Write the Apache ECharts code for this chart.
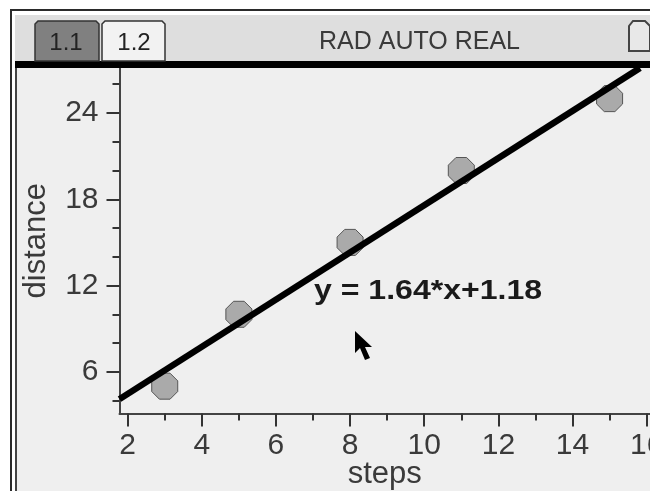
<!DOCTYPE html>
<html>
<head>
<meta charset="utf-8">
<script src="https://cdn.jsdelivr.net/npm/echarts@6/dist/echarts.min.js"></script>
<style>html,body{margin:0;padding:0;background:#fff}#c{width:650px;height:491px}</style>
</head>
<body>
<div id="c"></div>
<script>
const stepsValues = [3, 5, 8, 11, 15];
const distanceValues = [5, 10, 15, 20, 25];
const fitX = [1.78, 15.82];
const fitY = [4.1, 27.13];
const xMajor = [2, 4, 6, 8, 10, 12, 14, 16];
const xMinor = [3, 5, 7, 9, 11, 13, 15];
const yMajor = [6, 12, 18, 24];
const yMinor = [4, 8, 10, 14, 16, 20, 22, 26];
const xRange = [1.78, 16.09];
const yRange = [3.1, 27.13];
const equation = 'y = 1.64*x+1.18';
const tabs = ['1.1', '1.2'];
const status = 'RAD AUTO REAL';
const xName = 'steps';
const yName = 'distance';

const font = '"Liberation Sans", Arial, sans-serif';
const ink = '#3a3a3a';
const octagon = 'path://M-0.41,-1 L0.41,-1 L1,-0.41 L1,0.41 L0.41,1 L-0.41,1 L-1,0.41 L-1,-0.41 Z';

const chart = echarts.init(document.getElementById('c'), null, {renderer: 'canvas'});

function rect(x, y, w, h, fill, z, extra) {
  return Object.assign({type: 'rect', z: z, shape: {x, y, width: w, height: h}, style: {fill}}, extra || {});
}
function label(text, x, y, size, z, extra) {
  return {type: 'text', z, x, y, style: Object.assign({text, font: size + 'px ' + font, fill: ink, textAlign: 'center', textVerticalAlign: 'middle'}, extra || {})};
}
function poly(points, style, z) {
  return {type: 'polygon', z, shape: {points}, style};
}

const chrome = [
  rect(0, 0, 650, 491, '#ffffff', -10, {silent: true}),
  rect(10, 9, 640, 482, '#2a2a2a', -9),
  rect(12, 11, 638, 480, '#ffffff', -9),
  rect(15, 15, 635, 476, '#efefef', -8),
  rect(15, 15, 635, 46, '#dedede', 20),
  rect(15, 61, 635, 7, '#000000', 20),
  rect(15, 68, 2, 423, '#444444', 20),
  poly([[35,61],[35,24],[38,21],[96,21],[99,24],[99,61]], {fill: '#808080', stroke: '#333', lineWidth: 1.5}, 21),
  poly([[102,61],[102,24],[105,21],[162,21],[165,24],[165,61]], {fill: '#f2f2f2', stroke: '#333', lineWidth: 1.5}, 21),
  label(tabs[0], 66, 43, 24, 22, {fill: '#222'}),
  label(tabs[1], 134, 43, 24, 22, {fill: '#222'}),
  label(status, 419.5, 42, 25, 22),
  poly([[629,51],[629,26],[633,21],[645,21],[650,26],[650,51]], {fill: '#e8e8e8', stroke: '#444', lineWidth: 2}, 21),
  {type: 'text', z: 30, x: 314, y: 291, scaleX: 1.145, style: {text: equation, font: 'bold 28px ' + font, fill: '#1a1a1a', textAlign: 'left', textVerticalAlign: 'middle'}},
  poly([[355,331],[355,353],[360,348],[365,360],[370,358],[365,347],[372,347]], {fill: '#000'}, 30)
];

function baseTick(values, length) {
  return {show: true, length, customValues: values, lineStyle: {color: '#333', width: 2}};
}

chart.setOption({
  animation: false,
  backgroundColor: 'transparent',
  grid: {left: 119.5, top: 68, right: 0, bottom: 77.5, containLabel: false, outerBoundsMode: 'none'},
  xAxis: [
    {type: 'value', position: 'bottom', min: xRange[0], max: xRange[1], splitLine: {show: false},
     axisLine: {show: true, onZero: false, lineStyle: {color: '#444', width: 2}},
     axisTick: baseTick(xMajor, 13),
     axisLabel: {customValues: xMajor, margin: 17, fontSize: 30, fontFamily: font, color: ink, hideOverlap: false, showMinLabel: true, showMaxLabel: true},
     name: xName, nameLocation: 'middle', nameGap: 45, nameTextStyle: {fontSize: 31, fontFamily: font, color: ink},
     nameMoveOverlap: false},
    {type: 'value', position: 'bottom', min: xRange[0], max: xRange[1], splitLine: {show: false},
     axisLine: {show: false}, axisTick: baseTick(xMinor, 7), axisLabel: {show: false}}
  ],
  yAxis: [
    {type: 'value', position: 'left', min: yRange[0], max: yRange[1], splitLine: {show: false},
     axisLine: {show: true, onZero: false, lineStyle: {color: '#444', width: 2}},
     axisTick: baseTick(yMajor, 13),
     axisLabel: {customValues: yMajor, margin: 21, fontSize: 30, fontFamily: font, color: ink, hideOverlap: false},
     name: yName, nameLocation: 'middle', nameGap: 68, nameRotate: 90, nameTextStyle: {fontSize: 31, fontFamily: font, color: ink},
     nameMoveOverlap: false},
    {type: 'value', position: 'left', min: yRange[0], max: yRange[1], splitLine: {show: false},
     axisLine: {show: false}, axisTick: baseTick(yMinor, 7), axisLabel: {show: false}}
  ],
  series: [
    {type: 'scatter', z: 3, xAxisIndex: 0, yAxisIndex: 0, symbol: octagon, symbolSize: 26,
     itemStyle: {color: '#aaaaaa', borderColor: '#555555', borderWidth: 1, opacity: 1},
     data: stepsValues.map((v, i) => [v, distanceValues[i]])},
    {type: 'line', z: 4, xAxisIndex: 0, yAxisIndex: 0, showSymbol: false, symbol: 'none',
     lineStyle: {color: '#000', width: 6.5}, clip: false,
     data: fitX.map((v, i) => [v, fitY[i]])}
  ],
  graphic: {elements: chrome}
});
</script>
</body>
</html>
